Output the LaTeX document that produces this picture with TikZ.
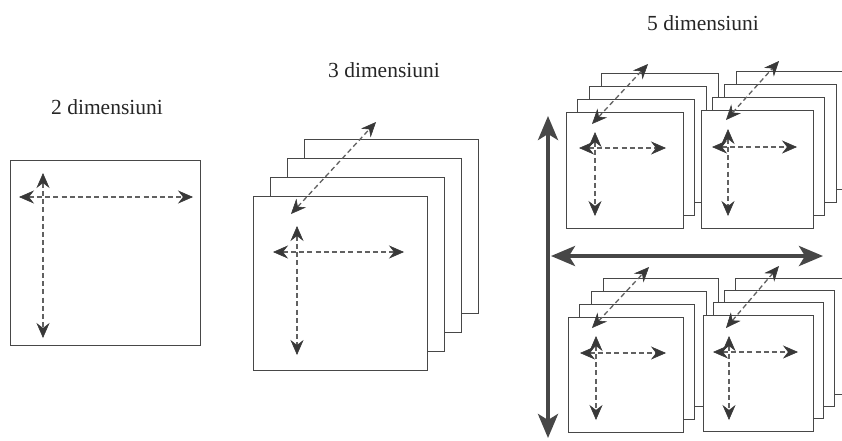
\documentclass[tikz,border=0pt]{standalone}
\usepackage{fontspec}
\setmainfont{Liberation Serif}
\usetikzlibrary{arrows.meta}
\tikzset{
  dimtip/.tip={Stealth[length=15pt,width=13pt,inset=5pt,line width=0.6pt,color=black!78]},
  sheet/.style={draw=black!72, fill=white, line width=0.9pt, inner sep=0pt, outer sep=0pt},
  dimarrow/.style={draw=black!62, line width=1.3pt, dash pattern=on 5pt off 3.2pt, dimtip-dimtip},
  bigarrow/.style={draw=black!72, line width=3.8pt,
    {Stealth[length=24pt,width=20pt,inset=6pt]}-{Stealth[length=24pt,width=20pt,inset=6pt]}},
  title/.style={font=\fontsize{21.5}{25}\selectfont, text=black!85}
}
\newcommand\sheetstack[7]{%
  \foreach \i in {3,2,1,0} {%
    \node[sheet, minimum width=#4pt, minimum height=#5pt, anchor=north west]
      (#1-\i) at ({#2+\i*#6},{#3-\i*#7}) {};
  }%
}
\begin{document}
\begin{tikzpicture}[x=1pt,y=-1pt]
\useasboundingbox (0,0) rectangle (842,440);
\clip (0,0) rectangle (842,440);
\fill[white] (0,0) rectangle (842,440);

% ---------- 2 dimensions ----------
\node[title] (t2) at (107,107) {2 dimensiuni};
\node[sheet, minimum width=190pt, minimum height=185pt, anchor=north west] (s2) at (10,160) {};
\coordinate (s2l) at (19,197);  \coordinate (s2r) at (193,197);
\coordinate (s2t) at (43,173);  \coordinate (s2b) at (43,338);
\draw[dimarrow] (s2l) -- (s2r);
\draw[dimarrow] (s2t) -- (s2b);

% ---------- 3 dimensions ----------
\node[title] (t3) at (384,70) {3 dimensiuni};
\sheetstack{s3}{253}{196}{174}{174}{17.3}{19}
\coordinate (s3dl) at (291,214); \coordinate (s3du) at (376,122);
\coordinate (s3l) at (273,252);  \coordinate (s3r) at (404,252);
\coordinate (s3t) at (297,226);  \coordinate (s3b) at (297,355);
\draw[dimarrow] (s3dl) -- (s3du);
\draw[dimarrow] (s3l) -- (s3r);
\draw[dimarrow] (s3t) -- (s3b);

% ---------- 5 dimensions ----------
\node[title] (t5) at (703,23) {5 dimensiuni};

% top-left stack
\sheetstack{a}{566}{112}{117}{116}{11.7}{12.7}
\coordinate (adl) at (592,124); \coordinate (adu) at (648,64);
\coordinate (al) at (579,148);  \coordinate (ar) at (666,148);
\coordinate (at) at (595,132);  \coordinate (ab) at (595,216);
\draw[dimarrow] (adl) -- (adu);
\draw[dimarrow] (al) -- (ar);
\draw[dimarrow] (at) -- (ab);

% top-right stack
\sheetstack{b}{701}{110}{112}{118}{11.7}{12.7}
\coordinate (bdl) at (726,120); \coordinate (bdu) at (779,61);
\coordinate (bl) at (712,147);  \coordinate (br) at (797,147);
\coordinate (bt) at (728,129);  \coordinate (bb) at (728,216);
\draw[dimarrow] (bdl) -- (bdu);
\draw[dimarrow] (bl) -- (br);
\draw[dimarrow] (bt) -- (bb);

% bottom-left stack
\sheetstack{c}{568}{317}{115}{115}{11.7}{13}
\coordinate (cdl) at (592,328); \coordinate (cdu) at (649,267);
\coordinate (cl) at (580,353);  \coordinate (cr) at (666,353);
\coordinate (ct) at (596,336);  \coordinate (cb) at (596,420);
\draw[dimarrow] (cdl) -- (cdu);
\draw[dimarrow] (cl) -- (cr);
\draw[dimarrow] (ct) -- (cb);

% bottom-right stack
\sheetstack{d}{703}{315}{110}{116}{10.7}{12.3}
\coordinate (ddl) at (726,328); \coordinate (ddu) at (779,266);
\coordinate (dl) at (713,352);  \coordinate (dr) at (798,352);
\coordinate (dt) at (729,336);  \coordinate (db) at (729,420);
\draw[dimarrow] (ddl) -- (ddu);
\draw[dimarrow] (dl) -- (dr);
\draw[dimarrow] (dt) -- (db);

% big axes
\coordinate (vtop) at (548,116); \coordinate (vbot) at (548,438);
\coordinate (hl) at (551,256);   \coordinate (hr) at (823,256);
\draw[bigarrow] (vtop) -- (vbot);
\draw[bigarrow] (hl) -- (hr);
\end{tikzpicture}
\end{document}
